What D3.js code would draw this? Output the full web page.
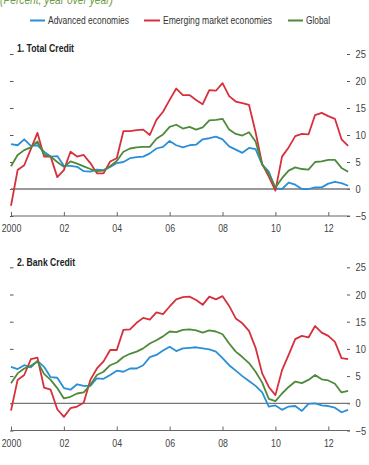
<!DOCTYPE html>
<html>
<head>
<meta charset="utf-8">
<script src="https://cdn.jsdelivr.net/npm/d3@7"></script>
<style>
  html, body { margin: 0; padding: 0; background: #fff; }
  svg { display: block; font-family: "Liberation Sans", Arial, sans-serif; }
</style>
</head>
<body>
<svg id="chart" width="369" height="465"></svg>
<script>
// Quarterly observations, 2000Q1 .. 2012Q4
const startYear = 2000;
const seriesNames = ["Advanced economies", "Emerging market economies", "Global"];
const seriesColors = ["#2b8fd6", "#d7303c", "#4f8a3b"];

// Panel 1: Total Credit
const totalAdvanced = [8.3, 8.1, 9.2, 8.0, 8.1, 6.9, 6.0, 6.1, 4.3, 4.3, 4.1, 3.3, 3.2, 3.6, 3.5, 4.1,
  4.8, 5.0, 5.7, 5.9, 6.0, 6.6, 7.5, 7.8, 8.9, 8.1, 7.7, 8.1, 8.2, 9.2, 9.4, 9.7,
  9.2, 7.9, 7.3, 6.7, 7.6, 7.4, 4.5, 3.2, 0.1, 0.0, 1.2, 0.8, 0.0, 0.0, 0.3, 0.3,
  1.0, 1.3, 1.1, 0.6];
const totalEmerging = [-3.1, 3.5, 4.4, 7.4, 10.4, 6.0, 6.0, 2.2, 3.5, 6.9, 6.0, 6.3, 4.8, 2.9, 2.9, 5.1,
  5.7, 10.7, 10.7, 10.9, 11.0, 10.0, 12.8, 14.3, 16.5, 18.6, 17.4, 17.4, 16.5, 15.7, 18.3, 18.2,
  19.6, 17.2, 16.2, 15.9, 15.6, 10.5, 4.6, 2.3, -0.3, 6.0, 7.7, 9.8, 10.2, 10.1, 13.7, 14.1,
  13.5, 13.0, 9.2, 8.0];
const totalGlobal = [4.2, 6.3, 7.2, 7.7, 8.8, 6.4, 6.0, 5.0, 4.1, 5.1, 4.7, 4.2, 3.7, 3.3, 3.4, 4.2,
  5.2, 6.9, 7.5, 7.7, 7.8, 7.8, 9.3, 10.1, 11.5, 11.9, 11.2, 11.5, 11.0, 11.4, 12.7, 12.8,
  13.0, 11.0, 10.2, 9.9, 10.5, 8.8, 4.6, 2.8, 0.3, 2.0, 3.4, 4.0, 3.7, 3.6, 5.0, 5.1,
  5.4, 5.4, 3.9, 3.2];

// Panel 2: Bank Credit
const bankAdvanced = [6.7, 6.3, 7.0, 6.6, 7.8, 6.7, 4.8, 4.7, 2.8, 2.5, 3.5, 3.2, 3.2, 4.6, 4.5, 5.2,
  6.0, 5.8, 6.4, 6.4, 7.0, 8.5, 8.9, 9.7, 10.4, 9.6, 10.1, 10.2, 10.3, 10.1, 9.9, 9.5,
  8.3, 7.0, 6.0, 5.0, 4.1, 3.2, 2.0, -0.6, -0.4, -1.2, -0.6, -0.5, -1.4, -0.1, 0.0, -0.4,
  -0.5, -0.8, -1.65, -1.2];
const bankEmerging = [-1.35, 4.3, 5.2, 8.1, 8.4, 2.9, 2.5, -1.1, -2.5, -0.9, -0.6, 0.1, 4.3, 6.4, 7.7, 9.8,
  9.8, 13.5, 13.6, 14.8, 15.7, 15.4, 16.7, 16.4, 17.8, 19.1, 19.5, 19.6, 19.0, 18.1, 19.6, 19.1,
  19.7, 17.9, 15.6, 14.7, 13.3, 10.2, 5.5, 3.0, 1.5, 6.1, 8.9, 11.8, 12.4, 12.1, 14.2, 13.0,
  12.4, 11.3, 8.3, 8.1];
const bankGlobal = [3.7, 5.5, 6.4, 6.9, 7.7, 5.4, 4.3, 2.8, 0.9, 1.2, 1.8, 2.0, 3.4, 5.2, 5.8, 7.0,
  7.5, 8.5, 9.1, 9.5, 10.1, 11.0, 11.6, 12.3, 13.2, 13.1, 13.5, 13.6, 13.4, 13.0, 13.4, 13.2,
  12.7, 11.0, 9.5, 8.5, 7.4, 5.8, 3.8, 0.8, 0.4, 1.8, 3.0, 4.0, 3.7, 4.3, 5.2, 4.4,
  4.2, 3.6, 2.0, 2.3];

const yTicks = [-5, 0, 5, 10, 15, 20, 25];
const xTicks = [2000, 2002, 2004, 2006, 2008, 2010, 2012];
const xTickLabels = ["2000", "02", "04", "06", "08", "10", "12"];
const panelTitles = ["1. Total Credit", "2. Bank Credit"];
const unitsLabel = "(Percent, year over year)";

const panels = [
  { title: panelTitles[0], series: [totalAdvanced, totalEmerging, totalGlobal], top: 54, bottom: 216, titleY: 51.5, titleW: 57 },
  { title: panelTitles[1], series: [bankAdvanced, bankEmerging, bankGlobal], top: 267.3, bottom: 430.5, titleY: 265.7, titleW: 58 }
];

const svg = d3.select("#chart");
const x = d3.scaleLinear().domain([2000, 2012]).range([11, 328.3]);
const xEnd = 350;

// condense a text element horizontally (the reference uses a narrow typeface)
function condense(sel, factor) {
  sel.each(function() {
    const w = this.getComputedTextLength();
    d3.select(this).attr("textLength", w * factor).attr("lengthAdjust", "spacingAndGlyphs");
  });
}

// Units label (cropped at the top, as in the reference)
svg.append("text").attr("x", 0).attr("y", 3.5)
  .attr("font-size", 12).attr("font-style", "italic").attr("fill", "#6c9c45")
  .attr("textLength", 113).attr("lengthAdjust", "spacingAndGlyphs")
  .text(unitsLabel);

// Legend
const legendItems = [
  { x1: 30, x2: 45, tx: 48, w: 81 },
  { x1: 144, x2: 160, tx: 163, w: 109 },
  { x1: 288, x2: 303, tx: 306, w: 24 }
];
legendItems.forEach((d, k) => {
  svg.append("line").attr("x1", d.x1).attr("x2", d.x2).attr("y1", 20.5).attr("y2", 20.5)
    .attr("stroke", seriesColors[k]).attr("stroke-width", 2);
  svg.append("text").attr("x", d.tx).attr("y", 24.3).attr("font-size", 11).attr("fill", "#333")
    .attr("textLength", d.w).attr("lengthAdjust", "spacingAndGlyphs")
    .text(seriesNames[k]);
});

panels.forEach(p => {
  const y = d3.scaleLinear().domain([-5, 25]).range([p.bottom, p.top]);
  const g = svg.append("g");

  // Left ticks (no labels)
  const left = g.append("g").attr("transform", "translate(13.5,0)")
    .call(d3.axisLeft(y).tickValues(yTicks).tickSize(3.5).tickFormat(""));
  left.select(".domain").remove();
  left.selectAll(".tick line").attr("stroke", "#555");

  // Right axis
  const right = g.append("g").attr("transform", "translate(347,0)")
    .call(d3.axisRight(y).tickValues(yTicks).tickSize(3).tickPadding(5.5));
  right.select(".domain").remove();
  right.selectAll(".tick line").attr("stroke", "#555");
  right.selectAll(".tick text").attr("font-size", 11).attr("fill", "#444")
    .attr("font-family", null).call(condense, 0.85);

  // Bottom axis
  const bottom = g.append("g").attr("transform", `translate(0,${p.bottom})`)
    .call(d3.axisBottom(x).tickValues(xTicks).tickSizeInner(-4).tickSizeOuter(0).tickPadding(8.5)
      .tickFormat((d, i) => xTickLabels[i]));
  bottom.select(".domain").remove();
  bottom.append("line").attr("x1", x(2000)).attr("x2", xEnd).attr("y1", 0).attr("y2", 0)
    .attr("stroke", "#666").attr("stroke-width", 1.2);
  bottom.selectAll(".tick line").attr("stroke", "#666");
  bottom.selectAll(".tick text").attr("font-size", 11).attr("fill", "#444")
    .attr("font-family", null).call(condense, 0.8);

  // Zero line
  g.append("line").attr("x1", x(2000)).attr("x2", xEnd).attr("y1", y(0)).attr("y2", y(0))
    .attr("stroke", "#777").attr("stroke-width", 1.3);

  // Series lines
  const line = d3.line().x((d, i) => x(startYear + i / 4)).y(d => y(d));
  p.series.forEach((s, k) => {
    g.append("path").datum(s).attr("d", line).attr("fill", "none")
      .attr("stroke", seriesColors[k]).attr("stroke-width", 1.8).attr("stroke-linejoin", "round");
  });

  // Panel title
  g.append("text").attr("x", 17).attr("y", p.titleY).attr("font-size", 11).attr("font-weight", "bold")
    .attr("fill", "#222").attr("textLength", p.titleW).attr("lengthAdjust", "spacingAndGlyphs")
    .text(p.title);
});
</script>
</body>
</html>
